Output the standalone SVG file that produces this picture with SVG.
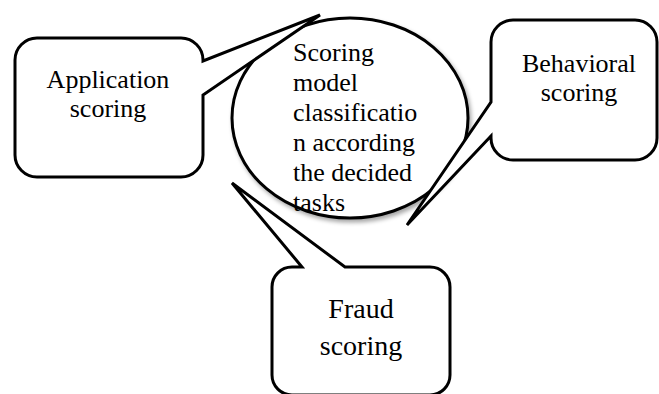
<svg xmlns="http://www.w3.org/2000/svg" width="659" height="394" viewBox="0 0 659 394">
<style>
.shape{fill:#fff;stroke:#000;stroke-width:3;stroke-linejoin:miter}
.txt{font-family:'Liberation Serif','Times New Roman',serif;fill:#000}
.t26{font-size:26px}
.t28{font-size:28px}
.c{text-anchor:middle}
</style>
<defs>
<filter id="sh" x="-10%" y="-10%" width="125%" height="125%">
<feDropShadow dx="2" dy="3" stdDeviation="2" flood-color="#000" flood-opacity="0.35"/>
</filter>
</defs>
<g id="scoring-model">
<ellipse class="shape" cx="350" cy="118" rx="118" ry="100" filter="url(#sh)"/>
</g>
<g id="connectors"></g>
<g id="application-scoring">
<path class="shape" d="M37 38 H181 A22 22 0 0 1 203 60 L203 61 L320 15 L203 95 V155 A22 22 0 0 1 181 177 H37 A22 22 0 0 1 15 155 V60 A22 22 0 0 1 37 38 Z"/>
<text class="txt t26 c" x="108" y="88">Application</text>
<text class="txt t26 c" x="108" y="117">scoring</text>
</g>
<g id="behavioral-scoring">
<path class="shape" d="M513 20 H635 A22 22 0 0 1 657 42 V138 A22 22 0 0 1 635 160 H513 A22 22 0 0 1 491 138 V136 L407 225 L491 102 V42 A22 22 0 0 1 513 20 Z"/>
<text class="txt t26 c" x="579" y="72">Behavioral</text>
<text class="txt t26 c" x="579" y="101">scoring</text>
</g>
<g id="fraud-scoring">
<path class="shape" d="M292 267 H302 L232 183 L345 267 H430 A20 20 0 0 1 450 287 V375 A20 20 0 0 1 430 395 H292 A20 20 0 0 1 272 375 V287 A20 20 0 0 1 292 267 Z"/>
<text class="txt t28 c" x="361" y="318">Fraud</text>
<text class="txt t28 c" x="361" y="355">scoring</text>
</g>
<g id="scoring-model-text" class="txt t26">
<text x="293" y="61">Scoring</text>
<text x="293" y="91">model</text>
<text x="293" y="121">classificatio</text>
<text x="293" y="151">n according</text>
<text x="293" y="181">the decided</text>
<text x="293" y="211">tasks</text>
</g>
</svg>
